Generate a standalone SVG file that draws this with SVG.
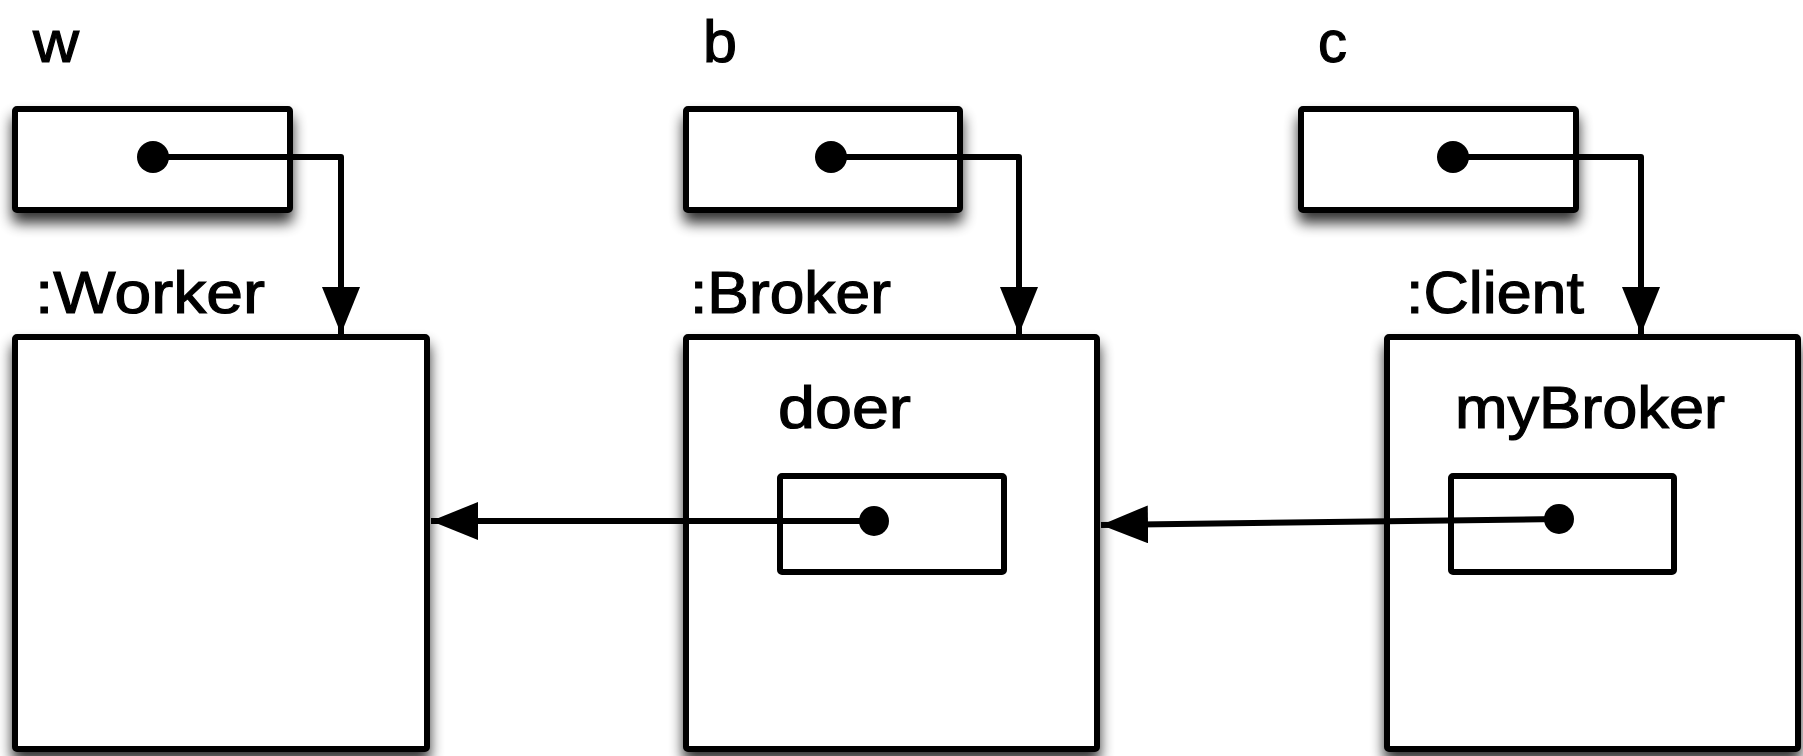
<svg xmlns="http://www.w3.org/2000/svg" width="1803" height="756" viewBox="0 0 1803 756">
  <style>
    .box { fill: #fff; stroke: #000; stroke-width: 6; stroke-linejoin: round; }
    .shadowed { filter: url(#drop); }
    .label { font-family: "Liberation Sans", Arial, sans-serif; font-size: 60px; fill: #000; stroke: #000; stroke-width: 1.2px; }
    .dot { fill: #000; }
    .ref { fill: none; stroke: #000; stroke-width: 6; stroke-linejoin: round; }
  </style>
  <defs>
    <filter id="drop" x="-20%" y="-20%" width="140%" height="160%">
      <feGaussianBlur in="SourceAlpha" stdDeviation="7"/>
      <feOffset dx="0" dy="10" result="blur"/>
      <feComponentTransfer><feFuncA type="linear" slope="0.8"/></feComponentTransfer>
      <feMerge><feMergeNode/><feMergeNode in="SourceGraphic"/></feMerge>
    </filter>
    <marker id="head" markerUnits="userSpaceOnUse" markerWidth="50" markerHeight="40" refX="47" refY="19" orient="auto">
      <path d="M0,0 L47,19 L0,38 Z" fill="#000"/>
    </marker>
  </defs>

  <!-- variable w -->
  <g id="var-w">
    <text class="label" x="33" y="62" textLength="46" lengthAdjust="spacingAndGlyphs">w</text>
    <rect class="box shadowed" x="15" y="109" width="275" height="101" rx="2"/>
    <circle class="dot" cx="153" cy="157" r="16"/>
  </g>

  <!-- variable b -->
  <g id="var-b">
    <text class="label" x="703" y="62" textLength="34" lengthAdjust="spacingAndGlyphs">b</text>
    <rect class="box shadowed" x="686" y="109" width="274" height="101" rx="2"/>
    <circle class="dot" cx="831" cy="157" r="16"/>
  </g>

  <!-- variable c -->
  <g id="var-c">
    <text class="label" x="1318" y="62" textLength="29" lengthAdjust="spacingAndGlyphs">c</text>
    <rect class="box shadowed" x="1301" y="109" width="275" height="101" rx="2"/>
    <circle class="dot" cx="1453" cy="157" r="16"/>
  </g>

  <!-- Worker object -->
  <g id="worker">
    <text class="label" x="35" y="313" textLength="230" lengthAdjust="spacingAndGlyphs">:Worker</text>
    <rect class="box shadowed" x="15" y="337" width="412" height="412" rx="2"/>
  </g>

  <!-- Broker object with its doer field -->
  <g id="broker">
    <text class="label" x="690" y="313" textLength="201" lengthAdjust="spacingAndGlyphs">:Broker</text>
    <rect class="box shadowed" x="686" y="337" width="411" height="412" rx="2"/>
    <text class="label" x="778" y="428" textLength="133" lengthAdjust="spacingAndGlyphs">doer</text>
    <rect class="box" x="780" y="476" width="224" height="96" rx="2"/>
    <circle class="dot" cx="874" cy="521" r="15"/>
  </g>

  <!-- Client object with its myBroker field -->
  <g id="client">
    <text class="label" x="1406" y="313" textLength="178" lengthAdjust="spacingAndGlyphs">:Client</text>
    <rect class="box shadowed" x="1387" y="337" width="411" height="412" rx="2"/>
    <text class="label" x="1455" y="428" textLength="270" lengthAdjust="spacingAndGlyphs">myBroker</text>
    <rect class="box" x="1451" y="476" width="223" height="96" rx="2"/>
    <circle class="dot" cx="1559" cy="519" r="15"/>
  </g>

  <!-- references -->
  <g id="connectors">
    <path class="ref" d="M153,157 H341 V334" marker-end="url(#head)"/>
    <path class="ref" d="M831,157 H1019 V334" marker-end="url(#head)"/>
    <path class="ref" d="M1453,157 H1641 V334" marker-end="url(#head)"/>
    <path class="ref" d="M874,521 L431,521" marker-end="url(#head)"/>
    <path class="ref" d="M1559,519 L1101,525" marker-end="url(#head)"/>
  </g>
</svg>
